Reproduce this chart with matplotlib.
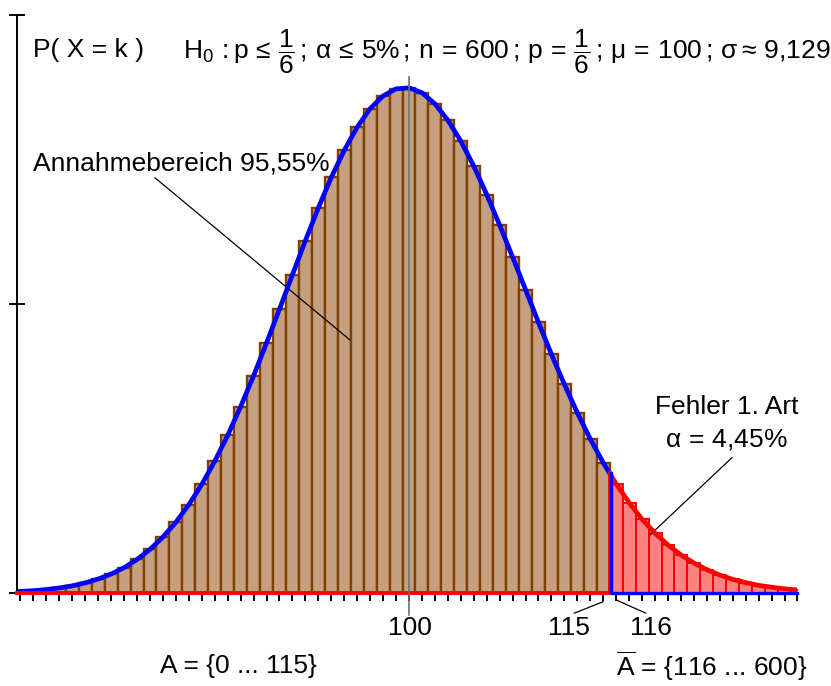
#!/usr/bin/env python3
# Binomial test chart: H0 p <= 1/6, n = 600, acceptance region and error of type 1
import numpy as np
import matplotlib
matplotlib.use("Agg")
from matplotlib import pyplot as plt
from matplotlib.patches import Rectangle

plt.rcParams['font.family'] = ['Liberation Sans', 'DejaVu Sans']
plt.rcParams['mathtext.fontset'] = 'custom'
plt.rcParams['mathtext.rm'] = 'Liberation Sans'
plt.rcParams['mathtext.it'] = 'Liberation Sans'
plt.rcParams['mathtext.bf'] = 'Liberation Sans:bold'

# ---- data ----
k_values = list(range(70, 131))
p_values = [
    0.00014, 0.00020, 0.00030, 0.00044, 0.00062, 0.00088, 0.00121, 0.00164,
    0.00219, 0.00290, 0.00377, 0.00484, 0.00612, 0.00764, 0.00939, 0.01140,
    0.01364, 0.01612, 0.01879, 0.02163, 0.02456, 0.02753, 0.03048, 0.03332,
    0.03595, 0.03829, 0.04030, 0.04190, 0.04300, 0.04361, 0.04370, 0.04327,
    0.04232, 0.04090, 0.03910, 0.03693, 0.03447, 0.03182, 0.02906, 0.02624,
    0.02340, 0.02065, 0.01805, 0.01558, 0.01332, 0.01126, 0.00943, 0.00781,
    0.00638, 0.00518, 0.00415, 0.00330, 0.00259, 0.00202, 0.00155, 0.00118,
    0.00090, 0.00066, 0.00050, 0.00036, 0.00026,
]
mu = 100
crit = 116          # first k of the rejection region
y_ticks = [0, 0.025, 0.05]
x_labels = {100: "100", 115: "115", 116: "116"}

W, H = 831, 686


def fpos(x, y):
    # pixel position -> figure fraction
    return x / W, 1 - y / H


k = np.array(k_values)
p = np.array(p_values)
acc = k < crit
rej = ~acc
edge = crit - 0.5

fig = plt.figure(figsize=(W / 100, H / 100), dpi=100)
ax = fig.add_axes([17 / W, (H - 593) / H, 780.5 / W, 578 / H])
xlim = (69.73, 130.0)
ax.set_xlim(*xlim)
ax.set_ylim(0, 0.05)

ax.bar(k[acc], p[acc], width=1, color='#C4A080', edgecolor='#804000', linewidth=1.7, zorder=2)
ax.bar(k[rej], p[rej], width=1, color='#FF8282', edgecolor='#FF0000', linewidth=1.4, zorder=2)

# smooth curve through the bar tops, blue left of the boundary, red right of it
blue_line, = ax.plot(k, p, color='#0000FF', lw=3.4, zorder=4, solid_joinstyle='round')
blue_line.set_clip_path(Rectangle((xlim[0], -1), edge - xlim[0], 2, transform=ax.transData))
red_line, = ax.plot(k, p, color='#FF0000', lw=3.4, zorder=4, solid_joinstyle='round')
red_line.set_clip_path(Rectangle((edge, -1), xlim[1] - edge, 2, transform=ax.transData))

h_edge = np.interp(edge, k, p)
ax.plot([xlim[0], edge, edge], [0, 0, h_edge], color='#FF0000', lw=2.8, zorder=5, clip_on=False)
ax.plot([edge + 0.12, edge + 0.12, xlim[1]], [h_edge, 0, 0], color='#0000FF', lw=2.4, zorder=5, clip_on=False)

# mean line
ax.axvline(mu, ymin=-0.038, ymax=0.893, color='#707070', lw=1.2, zorder=6, clip_on=False)

for s in ['top', 'right']:
    ax.spines[s].set_visible(False)
ax.spines['left'].set_linewidth(1.4)
ax.spines['bottom'].set_linewidth(1.4)
ax.set_yticks(y_ticks)
ax.set_yticklabels([])
ax.tick_params(axis='y', direction='inout', length=12, width=1.4)
ax.set_xticks(k_values)
ax.set_xticklabels([])
ax.tick_params(axis='x', direction='out', length=6, width=1.4)

fs = 19
fig.text(*fpos(33, 50), "P( X = k )", fontsize=fs, va='center', ha='left')
fig.text(*fpos(183, 52),
         r"$\mathrm{H_0}\,:p\,\leq\,\dfrac{1}{6}\,;\,\alpha\,\leq\,5\%\,;\,n\,=\,600\,;\,p\,=\,\dfrac{1}{6}\,;"
         r"\,\mu\,=\,100\,;\,\sigma\approx\,9{,}129$",
         fontsize=fs, va='center', ha='left')

ax.annotate("Annahmebereich 95,55%", xy=(95.44, 0.02189), xytext=fpos(33, 163),
            textcoords='figure fraction', fontsize=fs, va='center', ha='left',
            arrowprops=dict(arrowstyle='-', color='black', lw=0.9, shrinkA=0, shrinkB=0,
                            relpos=(0.4, 0.0)))
fig.text(*fpos(727, 407), "Fehler 1. Art", fontsize=fs, va='center', ha='center')
ax.annotate(r"$\alpha\,=\,4{,}45\%$", xy=(118.61, 0.00502), xytext=fpos(726, 440),
            textcoords='figure fraction', fontsize=fs, va='center', ha='center',
            arrowprops=dict(arrowstyle='-', color='black', lw=0.9, shrinkA=0, shrinkB=0,
                            relpos=(0.55, -0.2)))

# x labels with leader lines
fig.text(*fpos(410, 628), x_labels[100], fontsize=fs, va='center', ha='center')
ax.annotate(x_labels[115], xy=(115, -0.00075), xytext=fpos(569, 628), textcoords='figure fraction',
            fontsize=fs, va='center', ha='center', annotation_clip=False,
            arrowprops=dict(arrowstyle='-', color='black', lw=0.9, shrinkA=0, shrinkB=0,
                            relpos=(0.6, 1.1)))
ax.annotate(x_labels[116], xy=(116, -0.0006), xytext=fpos(651, 628), textcoords='figure fraction',
            fontsize=fs, va='center', ha='center', annotation_clip=False,
            arrowprops=dict(arrowstyle='-', color='black', lw=0.9, shrinkA=0, shrinkB=0,
                            relpos=(0.4, 1.1)))

fig.text(*fpos(238, 666), "A = {0 ... 115}", fontsize=fs, va='center', ha='center')
fig.text(*fpos(712, 666), r"$\overline{\mathrm{A}}$ = {116 ... 600}",
         fontsize=fs, va='center', ha='center')

fig.savefig("out.png", dpi=100)
